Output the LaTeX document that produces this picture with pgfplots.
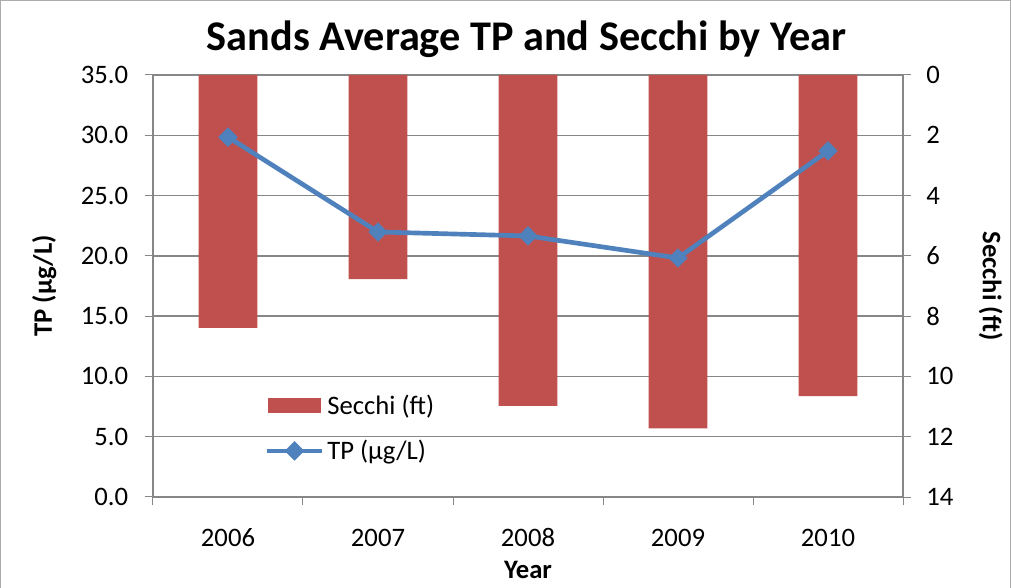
\documentclass[border=0pt]{standalone}
\usepackage{pgfplots}
\pgfplotsset{compat=1.18}
\usepackage{fontspec}
\setmainfont{Carlito}
\definecolor{barred}{HTML}{C0504D}
\definecolor{lineblue}{HTML}{4F81BD}
\definecolor{gridgray}{HTML}{878787}
\newcommand{\lblfont}{\fontsize{20}{24}\selectfont}
\pgfplotsset{
  base/.style={
    scale only axis, width=562.5pt, height=316.5pt,
    xmin=-0.5, xmax=4.5,
    tick align=outside,
    major tick length=6pt,
    tick style={gridgray, line width=0.75pt},
    axis line style={gridgray, line width=1pt},
    tick label style={font=\lblfont, black},
    /pgf/number format/assume math mode=true,
  },
  tplegend/.style={legend image code/.code={\draw[mark repeat=2, mark phase=2, ##1] plot coordinates {(0pt,0pt) (20.9pt,0pt) (41.8pt,0pt)};}},
  barlegend/.style={legend image code/.code={\fill[barred] (1.5pt,-5.25pt) rectangle (40.5pt,5.25pt);}},
}
\pgfplotstableread{
x tp secchi
0 29.85 8.39
1 21.98 6.77
2 21.65 10.98
3 19.82 11.72
4 28.70 10.65
}\datatab
\begin{document}
\begin{tikzpicture}
\useasboundingbox (-114.75pt,-68.25pt) rectangle (643.5pt,372.75pt);
\draw[gridgray!70, line width=0.75pt] (-114.2pt,-70pt) rectangle (642.9pt,372.2pt);
% left axis with grid
\begin{axis}[base,
  ymin=0, ymax=35,
  axis y line*=left, axis x line*=bottom,
  ytick={0,5,...,35},
  ymajorgrids, grid style={gridgray, line width=1pt},
  yticklabel style={/pgf/number format/.cd, fixed, fixed zerofill, precision=1, /tikz/.cd, anchor=east, inner sep=0pt, xshift=-12.5pt},
  xtick={-0.5,0.5,...,4.5}, xticklabels={},
  extra x ticks={0,1,2,3,4},
  extra x tick labels={2006,2007,2008,2009,2010},
  extra x tick style={major tick length=0pt, tick style={draw=none}, xticklabel style={anchor=base, inner sep=0pt, yshift=-37.5pt}},
  ylabel={\textbf{TP (µg/L)}},
  ylabel style={at={(axis description cs:-0.145,0.5)}, anchor=center, font=\lblfont},
  xlabel={\textbf{Year}},
  xlabel style={at={(axis description cs:0.5,-0.192)}, anchor=base, font=\lblfont},
  title={\textbf{Sands Average TP and Secchi by Year}},
  title style={at={(axis description cs:0.498,1.0396)}, anchor=base, font=\fontsize{31.7}{38}\selectfont},
]
\end{axis}
% right axis with bars
\begin{axis}[base,
  ymin=0, ymax=14, y dir=reverse,
  axis y line*=right, axis x line=none,
  ytick={0,2,...,14},
  yticklabel style={anchor=west, inner sep=0pt, xshift=11.25pt},
  ylabel={\textbf{Secchi (ft)}},
  ylabel style={at={(axis description cs:1.117,0.5)}, anchor=center, rotate=180, font=\lblfont},
]
\addplot[ybar, bar width=0.393, fill=barred, draw=none] table[x=x, y=secchi] {\datatab};
\end{axis}
% line on top
\begin{axis}[base,
  ymin=0, ymax=35,
  hide axis,
  legend style={at={(axis description cs:0.148,0.2488)}, anchor=north west, draw=none, fill=none,
    font=\lblfont, row sep=13.75pt, inner sep=0pt,
    nodes={inner sep=2pt}},
  legend cell align=left,
]
\addlegendimage{barlegend}
\addlegendentry{Secchi (ft)}
\addplot[lineblue, line width=3.5pt, mark=square*, mark size=5pt,
  mark options={fill=lineblue, draw=lineblue, line width=0.3pt, rotate=45}, tplegend]
  table[x=x, y=tp] {\datatab};
\addlegendentry{TP (µg/L)}
\end{axis}
\end{tikzpicture}
\end{document}
